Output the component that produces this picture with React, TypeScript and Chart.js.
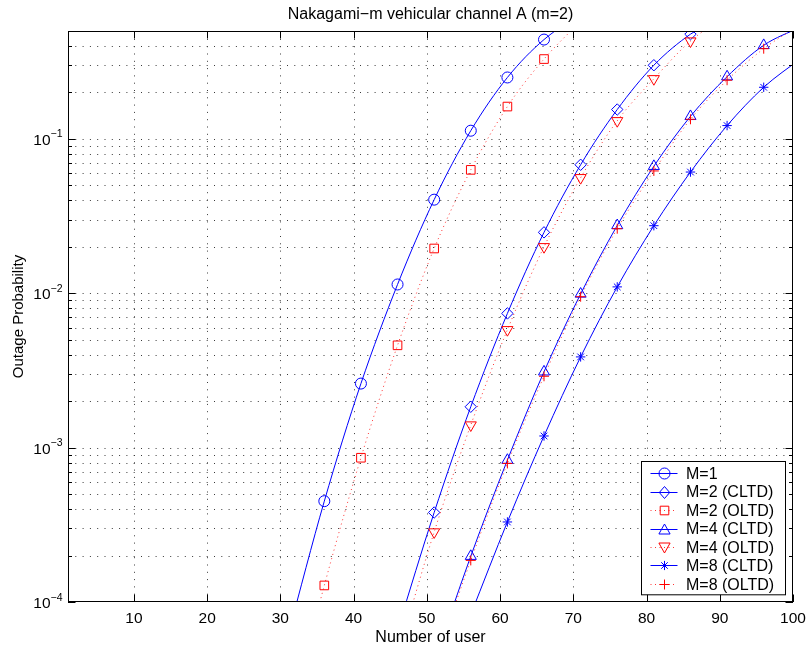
import React, { useEffect, useRef } from 'react';
import { Chart, registerables } from 'chart.js';

Chart.register(...registerables);

// ---------------- data ----------------
const TITLE = 'Nakagami\u2212m vehicular channel A (m=2)';
const X_LABEL = 'Number of user';
const Y_LABEL = 'Outage Probability';
const X_TICKS = [10, 20, 30, 40, 50, 60, 70, 80, 90, 100];
const Y_DECADES = [-4, -3, -2, -1];
const X_MIN = 1;
const X_MAX = 100;
const Y_MIN = 1e-4;
const Y_MAX = 0.5;

const seriesNames = ['M=1', 'M=2 (CLTD)', 'M=2 (OLTD)', 'M=4 (CLTD)', 'M=4 (OLTD)', 'M=8 (CLTD)', 'M=8 (OLTD)'];

// first and last entries of each series are curve ends (beyond the axes) without markers
const m1Users = [31, 36, 41, 46, 51, 56, 61, 66, 71];
const m1Outage = [6.0e-5, 4.5e-4, 2.6e-3, 1.14e-2, 4.04e-2, 0.113, 0.25, 0.44, 0.64];

const m2cUsers = [46, 51, 56, 61, 66, 71, 76, 81, 86, 91];
const m2cOutage = [6.6e-5, 3.8e-4, 1.84e-3, 7.4e-3, 2.48e-2, 6.8e-2, 0.155, 0.3, 0.477, 0.645];

const m2oUsers = [31, 36, 41, 46, 51, 56, 61, 66, 71];
const m2oOutage = [1.5e-5, 1.28e-4, 8.6e-4, 4.6e-3, 1.95e-2, 6.3e-2, 0.162, 0.329, 0.58];

const m4cUsers = [51, 56, 61, 66, 71, 76, 81, 86, 91, 96, 101];
const m4cOutage = [4.1e-5, 1.98e-4, 8.3e-4, 3.1e-3, 9.9e-3, 2.75e-2, 6.65e-2, 0.14, 0.253, 0.404, 0.53];

const m4oUsers = [46, 51, 56, 61, 66, 71, 76, 81, 86, 91];
const m4oOutage = [4.5e-5, 2.84e-4, 1.4e-3, 5.8e-3, 2.0e-2, 5.6e-2, 0.131, 0.245, 0.43, 0.635];

const m8cUsers = [56, 61, 66, 71, 76, 81, 86, 91, 96, 101];
const m8cOutage = [8.3e-5, 3.3e-4, 1.19e-3, 3.87e-3, 1.1e-2, 2.74e-2, 6.1e-2, 0.122, 0.216, 0.33];

const m8oUsers = [51, 56, 61, 66, 71, 76, 81, 86, 91, 96, 101];
const m8oOutage = [3.9e-5, 1.86e-4, 7.9e-4, 2.9e-3, 9.5e-3, 2.62e-2, 6.2e-2, 0.134, 0.24, 0.384, 0.55];

const seriesUsers = [m1Users, m2cUsers, m2oUsers, m4cUsers, m4oUsers, m8cUsers, m8oUsers];
const seriesOutage = [m1Outage, m2cOutage, m2oOutage, m4cOutage, m4oOutage, m8cOutage, m8oOutage];

// ---------------- styles ----------------
const BLUE = '#0000ff';
const RED = '#ff0000';
const RED_LINE = 'rgba(255,0,0,0.8)';
const seriesStyle = [
  { color: BLUE, marker: 'o', dotted: false, pointStyle: 'circle', radius: 5.5, rotation: 0 },
  { color: BLUE, marker: 'd', dotted: false, pointStyle: 'rectRot', radius: 5.7, rotation: 0 },
  { color: RED, marker: 's', dotted: true, pointStyle: 'rect', radius: 6.1, rotation: 0 },
  { color: BLUE, marker: '^', dotted: false, pointStyle: 'triangle', radius: 6.4, rotation: 0 },
  { color: RED, marker: 'v', dotted: true, pointStyle: 'triangle', radius: 6.4, rotation: 180 },
  { color: BLUE, marker: '*', dotted: false, pointStyle: 'star', radius: 4.7, rotation: 0 },
  { color: RED, marker: '+', dotted: true, pointStyle: 'cross', radius: 5, rotation: 0 },
];
const FONT = '"Liberation Sans", Arial, Helvetica, sans-serif';
const RED_DASH = [1, 3.5];

function drawMarker(g: CanvasRenderingContext2D, kind: string, color: string, c: number, cy: number) {
  g.save();
  g.strokeStyle = color;
  g.lineWidth = 1;
  g.setLineDash([]);
  g.beginPath();
  switch (kind) {
    case 'o':
      g.arc(c, cy, 5.5, 0, Math.PI * 2);
      break;
    case 'd':
      g.moveTo(c, cy - 6);
      g.lineTo(c + 5.2, cy);
      g.lineTo(c, cy + 6);
      g.lineTo(c - 5.2, cy);
      g.closePath();
      break;
    case 's':
      g.rect(c - 4.3, cy - 4.3, 8.6, 8.6);
      break;
    case '^':
      g.moveTo(c, cy - 5.5);
      g.lineTo(c + 5.6, cy + 4.5);
      g.lineTo(c - 5.6, cy + 4.5);
      g.closePath();
      break;
    case 'v':
      g.moveTo(c, cy + 5.5);
      g.lineTo(c + 5.6, cy - 4.5);
      g.lineTo(c - 5.6, cy - 4.5);
      g.closePath();
      break;
    case '*': {
      const r = 4.6;
      for (let k = 0; k < 4; k++) {
        const a = (k * Math.PI) / 4;
        g.moveTo(c - Math.cos(a) * r, cy - Math.sin(a) * r);
        g.lineTo(c + Math.cos(a) * r, cy + Math.sin(a) * r);
      }
      break;
    }
    case '+':
      g.moveTo(c - 5, cy);
      g.lineTo(c + 5, cy);
      g.moveTo(c, cy - 5);
      g.lineTo(c, cy + 5);
      break;
  }
  g.stroke();
  g.restore();
}

function line(ctx: CanvasRenderingContext2D, x1: number, y1: number, x2: number, y2: number) {
  ctx.beginPath();
  ctx.moveTo(x1, y1);
  ctx.lineTo(x2, y2);
  ctx.stroke();
}

export default function App() {
  const ref = useRef<HTMLCanvasElement | null>(null);

  useEffect(() => {
    const canvas = ref.current;
    if (!canvas) return;

    const axesPlugin = {
      id: 'matlabAxes',
      beforeDatasetsDraw(chart: any) {
        const { ctx, chartArea: a, scales } = chart;
        const xs = scales.x;
        const ys = scales.y;
        ctx.save();
        ctx.fillStyle = '#ffffff';
        ctx.fillRect(a.left, a.top, a.right - a.left, a.bottom - a.top);
        ctx.strokeStyle = '#3a3a3a';
        ctx.lineWidth = 1;
        ctx.setLineDash([1, 6.3]);
        for (const t of X_TICKS) {
          if (t <= X_MIN || t >= X_MAX) continue;
          const px = Math.round(xs.getPixelForValue(t)) + 0.5;
          line(ctx, px, a.bottom, px, a.top);
        }
        for (const d of Y_DECADES) {
          for (let k = 1; k <= 9; k++) {
            const v = k * Math.pow(10, d);
            if (v <= Y_MIN * 1.0001 || v >= Y_MAX * 0.9999) continue;
            const py = Math.round(ys.getPixelForValue(v)) + 0.5;
            line(ctx, a.left, py, a.right, py);
          }
        }
        ctx.restore();
      },
      afterDatasetsDraw(chart: any) {
        const { ctx, chartArea: a, scales } = chart;
        const xs = scales.x;
        const ys = scales.y;
        ctx.save();
        ctx.setLineDash([]);
        ctx.strokeStyle = '#000000';
        ctx.lineWidth = 1;
        // box
        ctx.strokeRect(a.left + 0.5, a.top + 0.5, a.right - a.left - 1, a.bottom - a.top - 1);
        const majorLen = 7.5;
        const minorLen = 4;
        // x ticks
        for (const t of X_TICKS) {
          const px = Math.round(xs.getPixelForValue(t)) + 0.5;
          line(ctx, px, a.bottom, px, a.bottom - majorLen);
          line(ctx, px, a.top, px, a.top + majorLen);
        }
        // y ticks
        for (const d of Y_DECADES.concat([0])) {
          for (let k = 1; k <= 9; k++) {
            const v = k * Math.pow(10, d);
            if (v < Y_MIN * 0.9999 || v > Y_MAX * 1.0001) continue;
            const py = Math.round(ys.getPixelForValue(v)) + 0.5;
            const len = k === 1 ? majorLen : minorLen;
            line(ctx, a.left, py, a.left + len, py);
            line(ctx, a.right, py, a.right - len, py);
          }
        }
        // tick labels
        ctx.fillStyle = '#000000';
        ctx.font = '15.5px ' + FONT;
        ctx.textAlign = 'center';
        ctx.textBaseline = 'alphabetic';
        for (const t of X_TICKS) {
          const px = xs.getPixelForValue(t);
          ctx.fillText(String(t), px, a.bottom + 21);
        }
        for (const d of Y_DECADES) {
          const py = ys.getPixelForValue(Math.pow(10, d));
          const sup = '\u2212' + Math.abs(d);
          ctx.font = '10.5px ' + FONT;
          ctx.textAlign = 'right';
          const right = a.left - 5.5;
          const sw = ctx.measureText(sup).width;
          ctx.fillText(sup, right, py - 1.5);
          ctx.font = '15.5px ' + FONT;
          ctx.fillText('10', right - sw, py + 6.2);
        }
        // title and axis labels
        const cx = (a.left + a.right) / 2;
        ctx.textAlign = 'center';
        ctx.font = '16px ' + FONT;
        ctx.fillText(TITLE, cx, a.top - 12);
        ctx.fillText(X_LABEL, cx, a.bottom + 39.5);
        ctx.save();
        ctx.translate(23, (a.top + a.bottom) / 2);
        ctx.rotate(-Math.PI / 2);
        ctx.font = '15px ' + FONT;
        ctx.fillText(Y_LABEL, 0, 0);
        ctx.restore();

        // legend
        const bw = 144;
        const bh = 133.3;
        const bx = Math.round(a.right - 8.5 - bw) + 0.5;
        const by = Math.round(a.bottom - 8 - bh) + 0.5;
        ctx.fillStyle = '#ffffff';
        ctx.fillRect(bx, by, bw, bh);
        ctx.strokeStyle = '#000000';
        ctx.lineWidth = 1;
        ctx.strokeRect(bx, by, bw, bh);
        ctx.font = '16px ' + FONT;
        ctx.textAlign = 'left';
        seriesNames.forEach((name, i) => {
          const st = seriesStyle[i];
          const ry = by + 11.7 + i * 18.45;
          const ly = Math.round(ry) + 0.5;
          ctx.strokeStyle = st.dotted ? RED_LINE : st.color;
          ctx.setLineDash(st.dotted ? RED_DASH : []);
          line(ctx, bx + 9, ly, bx + 36, ly);
          ctx.setLineDash([]);
          drawMarker(ctx, st.marker, st.color, Math.round(bx + 22) + 0.5, ly);
          ctx.fillStyle = '#000000';
          ctx.fillText(name, bx + 44.5, ry + 5.8);
        });
        ctx.restore();
      },
    };

    const datasets = seriesNames.map((name, i) => {
      const users = seriesUsers[i];
      const outage = seriesOutage[i];
      const st = seriesStyle[i];
      const n = users.length;
      return {
        label: name,
        data: users.map((u, j) => ({ x: u, y: outage[j] })),
        borderColor: st.dotted ? RED_LINE : st.color,
        backgroundColor: 'transparent',
        borderWidth: 1,
        borderDash: st.dotted ? RED_DASH : [],
        pointStyle: st.pointStyle,
        pointRotation: st.rotation,
        pointRadius: users.map((_, j) => (j === 0 || j === n - 1 ? 0 : st.radius)),
        pointHoverRadius: 0,
        pointBorderWidth: 1,
        pointBorderColor: st.color,
        pointBackgroundColor: 'rgba(0,0,0,0)',
        cubicInterpolationMode: 'monotone',
        fill: false,
        clip: 0,
        order: seriesNames.length - i,
      };
    });

    const chart = new Chart(canvas, {
      type: 'line',
      data: { datasets } as any,
      options: {
        responsive: false,
        animation: false,
        events: [],
        layout: { padding: { left: 68, top: 31, right: 13, bottom: 45 } },
        plugins: {
          legend: { display: false },
          title: { display: false },
          tooltip: { enabled: false },
        },
        scales: {
          x: { type: 'linear', min: X_MIN, max: X_MAX, display: false },
          y: { type: 'logarithmic', min: Y_MIN, max: Y_MAX, display: false },
        },
      } as any,
      plugins: [axesPlugin],
    });
    return () => chart.destroy();
  }, []);

  return (
    <div style={{ position: 'absolute', left: 0, top: 0, width: 806, height: 647, background: '#ffffff' }}>
      <canvas ref={ref} width={806} height={647} style={{ display: 'block', width: 806, height: 647 }} />
    </div>
  );
}
